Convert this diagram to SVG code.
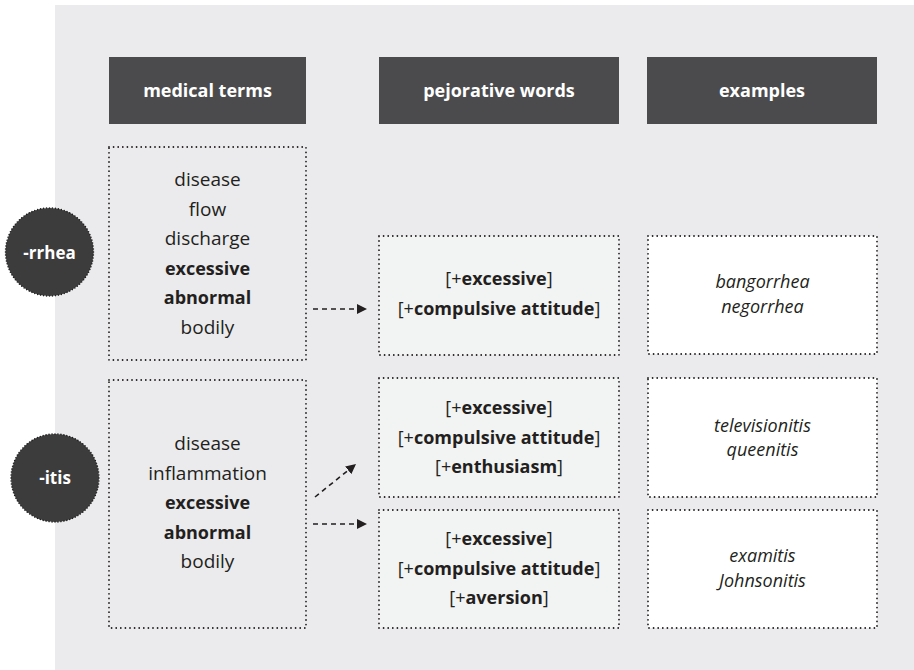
<svg xmlns="http://www.w3.org/2000/svg" width="914" height="670" viewBox="0 0 914 670">
  <style>
    text { font-family: "Open Sans", "Liberation Sans", sans-serif; fill: #231f20; text-anchor: middle; }
    .hdr rect { fill: #4b4b4d; }
    .hdr text { fill: #ffffff; font-weight: 700; font-size: 18px; }
    .box { stroke: #231f20; stroke-width: 1.8; stroke-dasharray: 0 4.6; stroke-linecap: round; }
    .med { fill: none; }
    .pej { fill: #f2f3f3; }
    .ex { fill: #ffffff; }
    .t { font-size: 18px; }
    .m { font-size: 19px; }
    .b { font-weight: 700; font-size: 18px; }
    .i { font-style: italic; }
    .suffix circle { fill: #3c3c3c; stroke: #231f20; stroke-width: 1.6; stroke-dasharray: 0 3; stroke-linecap: round; }
    .suffix text { fill: #ffffff; font-weight: 700; font-size: 17px; }
    .conn line { stroke: #231f20; stroke-width: 1.6; stroke-dasharray: 5 4; }
  </style>
  <defs>
    <marker id="arrow" viewBox="0 0 10 10" refX="10" refY="5" markerWidth="10" markerHeight="10" markerUnits="userSpaceOnUse" orient="auto">
      <path d="M0,0 L10,5 L0,10 Z" fill="#231f20"/>
    </marker>
  </defs>

  <!-- background panel -->
  <rect x="55" y="5" width="859" height="665" fill="#ebebed"/>

  <!-- column headers -->
  <g id="hdr-medical" class="hdr">
    <rect x="109" y="57" width="197" height="67"/>
    <text x="207.5" y="97">medical terms</text>
  </g>
  <g id="hdr-pejorative" class="hdr">
    <rect x="379" y="57" width="240" height="67"/>
    <text x="499" y="97">pejorative words</text>
  </g>
  <g id="hdr-examples" class="hdr">
    <rect x="647" y="57" width="230" height="67"/>
    <text x="762" y="97">examples</text>
  </g>

  <!-- -rrhea row -->
  <g id="med-rrhea">
    <rect class="box med" x="109" y="147" width="197" height="213"/>
    <text class="m" x="207.5" y="186">disease</text>
    <text class="m" x="207.5" y="215.5">flow</text>
    <text class="m" x="207.5" y="245">discharge</text>
    <text class="b" x="207.5" y="274.5">excessive</text>
    <text class="b" x="207.5" y="304">abnormal</text>
    <text class="m" x="207.5" y="334">bodily</text>
  </g>
  <g id="suffix-rrhea" class="suffix">
    <circle cx="49.5" cy="252" r="44"/>
    <text x="49.5" y="259">-rrhea</text>
  </g>
  <g id="pej-rrhea">
    <rect class="box pej" x="379" y="236" width="240" height="119"/>
    <text class="t" x="499" y="285">[+<tspan class="b">excessive</tspan>]</text>
    <text class="t" x="499" y="315">[+<tspan class="b">compulsive attitude</tspan>]</text>
  </g>
  <g id="ex-rrhea">
    <rect class="box ex" x="648" y="236" width="229" height="118"/>
    <text class="t i" x="762.5" y="288">bangorrhea</text>
    <text class="t i" x="762.5" y="313">negorrhea</text>
  </g>

  <!-- -itis row -->
  <g id="med-itis">
    <rect class="box med" x="109" y="380" width="197" height="248"/>
    <text class="m" x="207.5" y="450">disease</text>
    <text class="m" x="207.5" y="479.5">inflammation</text>
    <text class="b" x="207.5" y="509">excessive</text>
    <text class="b" x="207.5" y="538.5">abnormal</text>
    <text class="m" x="207.5" y="568">bodily</text>
  </g>
  <g id="suffix-itis" class="suffix">
    <circle cx="55" cy="478" r="44"/>
    <text x="55" y="484">-itis</text>
  </g>
  <g id="pej-itis-enthusiasm">
    <rect class="box pej" x="379" y="378" width="240" height="119"/>
    <text class="t" x="499" y="414">[+<tspan class="b">excessive</tspan>]</text>
    <text class="t" x="499" y="443.5">[+<tspan class="b">compulsive attitude</tspan>]</text>
    <text class="t" x="499" y="473">[+<tspan class="b">enthusiasm</tspan>]</text>
  </g>
  <g id="pej-itis-aversion">
    <rect class="box pej" x="379" y="510" width="240" height="118"/>
    <text class="t" x="499" y="545">[+<tspan class="b">excessive</tspan>]</text>
    <text class="t" x="499" y="574.5">[+<tspan class="b">compulsive attitude</tspan>]</text>
    <text class="t" x="499" y="604">[+<tspan class="b">aversion</tspan>]</text>
  </g>
  <g id="ex-itis-enthusiasm">
    <rect class="box ex" x="648" y="378" width="229" height="119"/>
    <text class="t i" x="762.5" y="432">televisionitis</text>
    <text class="t i" x="762.5" y="456">queenitis</text>
  </g>
  <g id="ex-itis-aversion">
    <rect class="box ex" x="648" y="510" width="229" height="118"/>
    <text class="t i" x="762.5" y="562">examitis</text>
    <text class="t i" x="762.5" y="587">Johnsonitis</text>
  </g>

  <!-- connectors -->
  <g id="connectors" class="conn">
    <line x1="313" y1="309" x2="367" y2="309" marker-end="url(#arrow)"/>
    <line x1="315" y1="497" x2="356" y2="464" marker-end="url(#arrow)"/>
    <line x1="313" y1="524" x2="367" y2="524" marker-end="url(#arrow)"/>
  </g>
</svg>
